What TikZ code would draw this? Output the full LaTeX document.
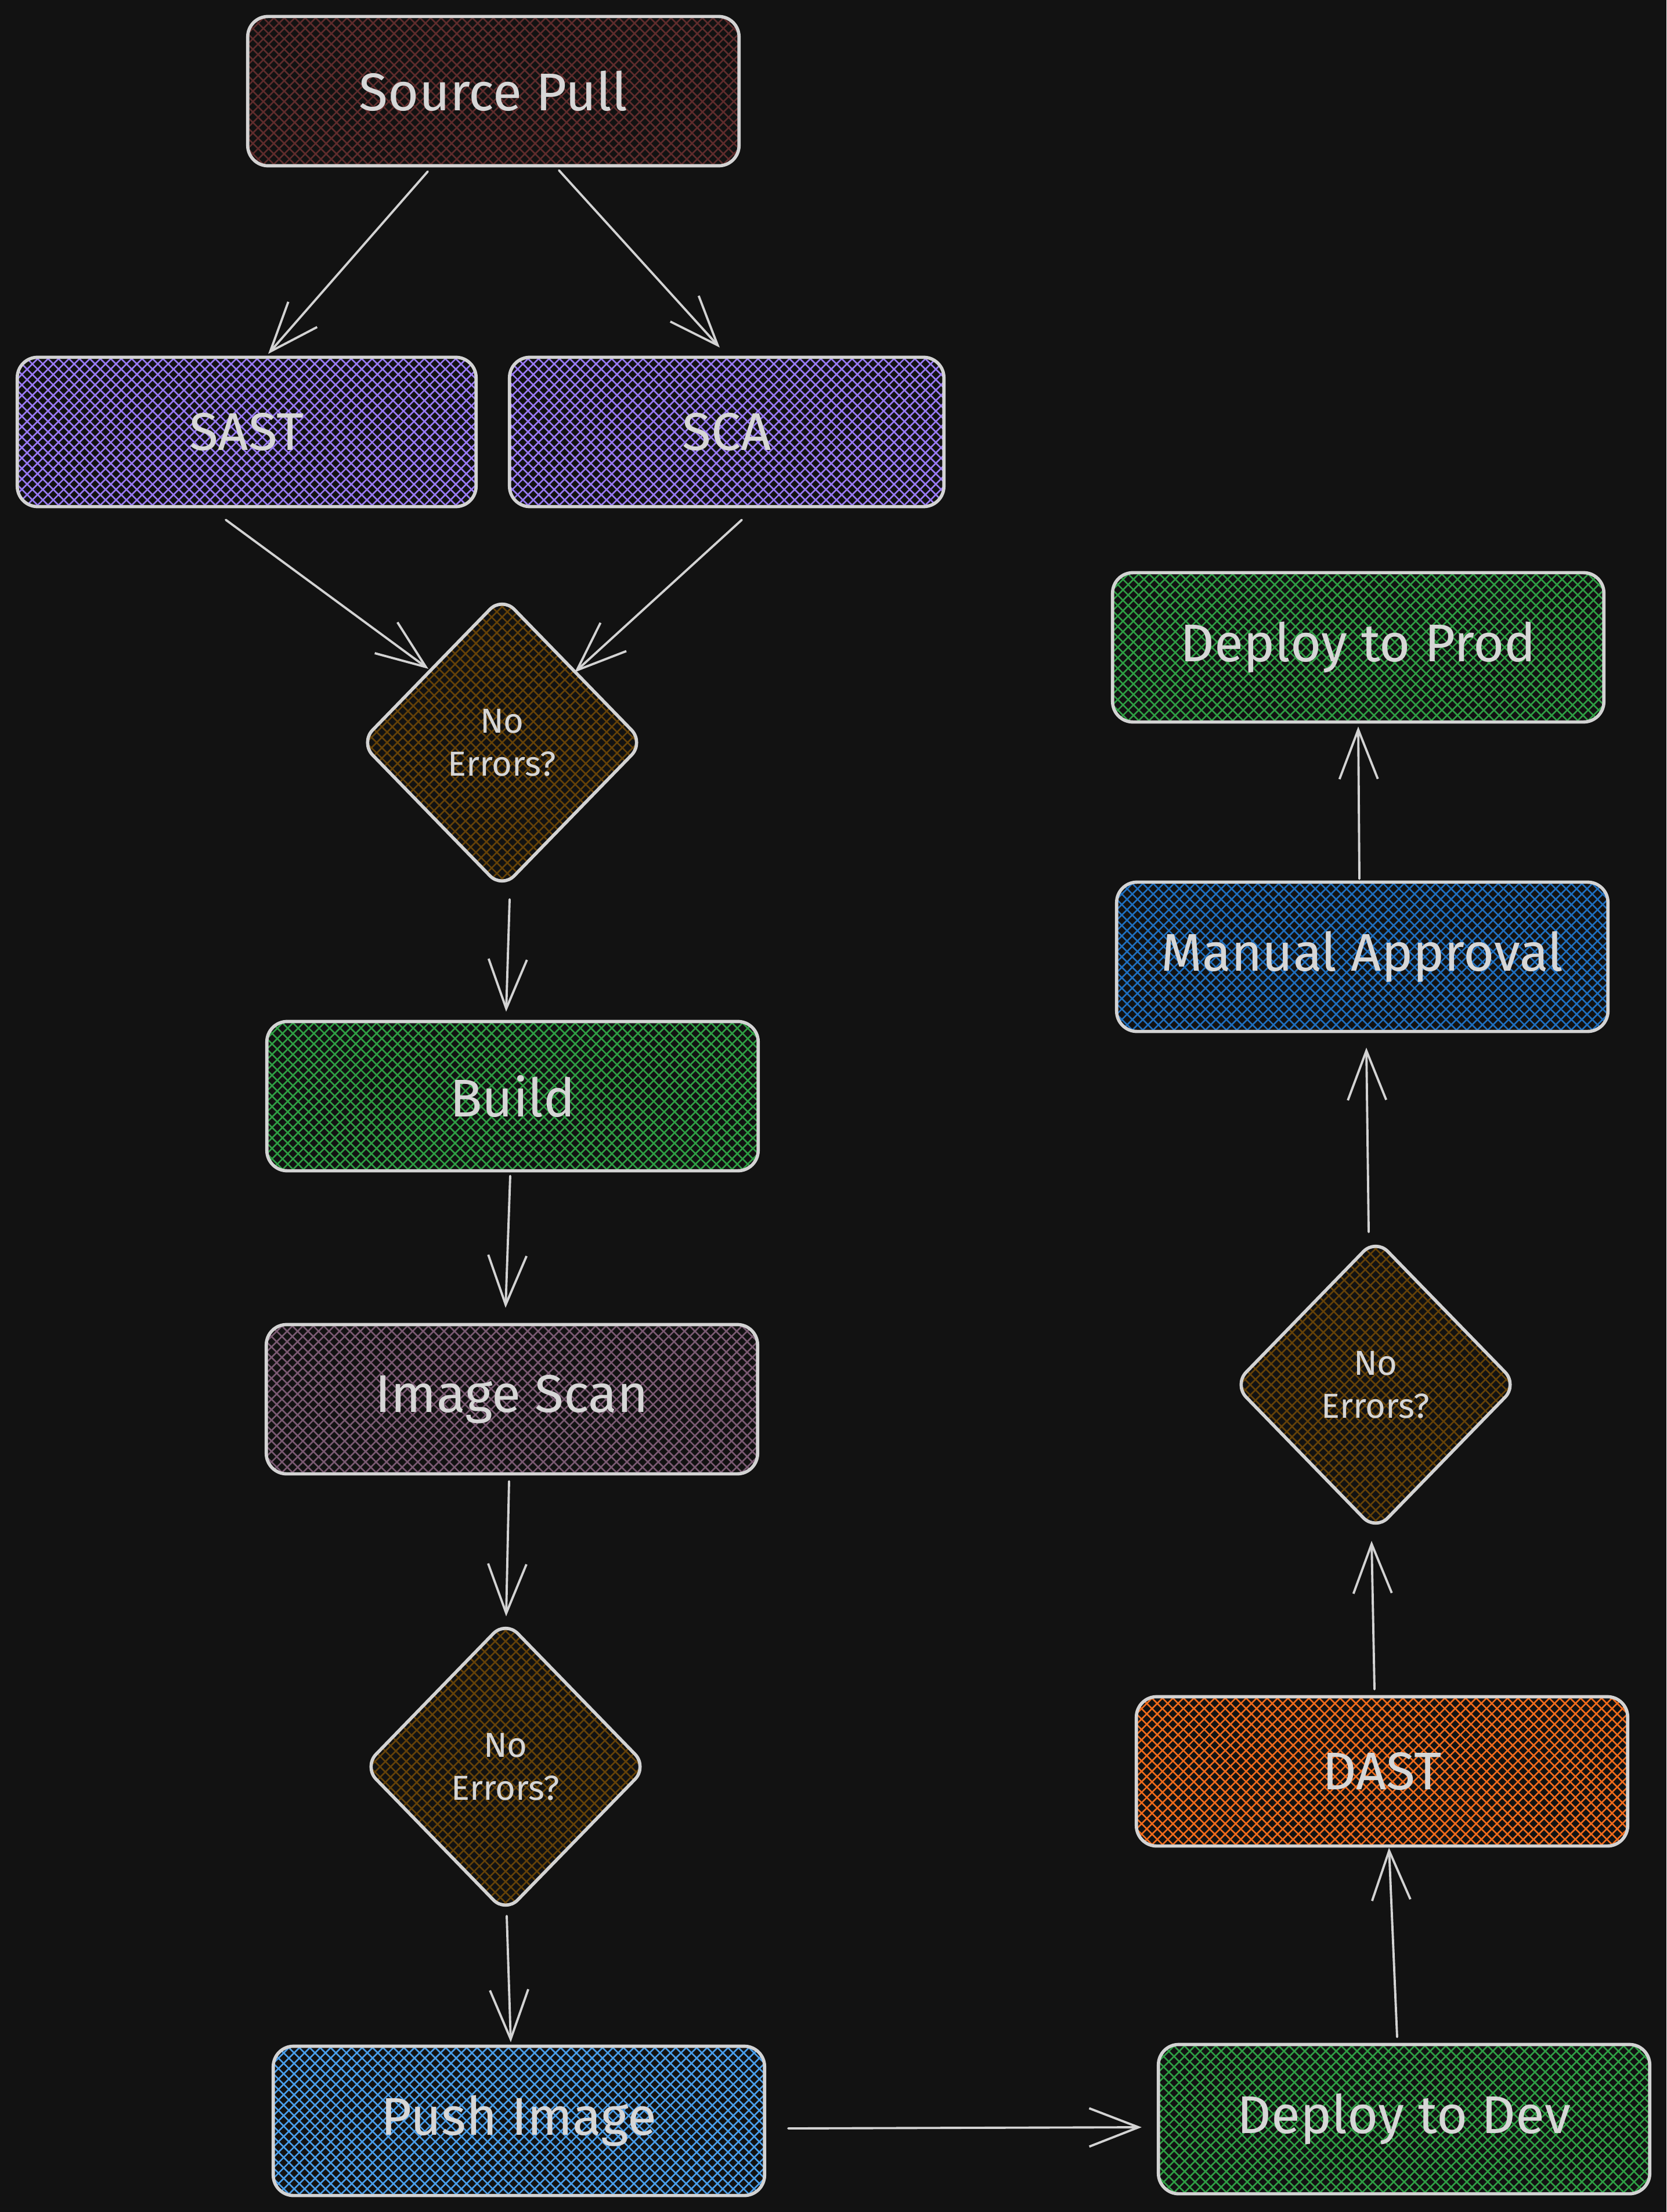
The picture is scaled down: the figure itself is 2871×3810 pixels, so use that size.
\documentclass[tikz,border=0pt]{standalone}
\usepackage{fontspec}
\setmainfont{Fira Sans}
\usetikzlibrary{shapes.geometric,arrows.meta,calc}
\definecolor{bgc}{HTML}{121212}
\definecolor{strokec}{HTML}{D3D3D3}
\definecolor{txtc}{HTML}{D6D6D6}
\definecolor{srcc}{HTML}{5E2C2C}
\definecolor{sastc}{HTML}{9A7BF6}
\definecolor{decc}{HTML}{654208}
\definecolor{greenc}{HTML}{2F9E44}
\definecolor{isc}{HTML}{7A5A72}
\definecolor{pushc}{HTML}{4A9EEA}
\definecolor{manc}{HTML}{1F6FBF}
\definecolor{dastc}{HTML}{F06B1C}
\newcommand{\boxfont}{\fontsize{26}{31}\selectfont}
\newcommand{\diafont}{\fontsize{17}{21}\selectfont}
\begin{document}
\begin{tikzpicture}[x=0.01cm,y=-0.01cm,
  hatchfill/.style={path picture={
    \foreach \k in {-34,...,34}{
      \draw[draw=#1, line width=0.75pt]
        ([xshift=\k*0.18cm]path picture bounding box.center)
        +(-3.2cm,-3.2cm) -- +(3.2cm,3.2cm)
        +(-3.2cm,3.2cm) -- +(3.2cm,-3.2cm);
    }}},
  box/.style={draw=strokec, line width=1.6pt, rounded corners=0.35cm,
    minimum width=8.46cm, minimum height=2.57cm, inner sep=0pt,
    text=txtc, font=\boxfont, hatchfill=#1},
  dia/.style={shape=diamond, draw=strokec, line width=1.6pt, rounded corners=0.3cm,
    minimum width=4.9cm, minimum height=5.04cm, inner sep=0pt,
    text=txtc, font=\diafont, align=center, hatchfill=#1},
  conn/.style={draw=strokec, line width=1.1pt, line cap=round,
    -{Straight Barb[length=0.85cm, width=0.66cm]}}
]
\useasboundingbox (0,0) rectangle (2871,3810);
\fill[bgc] (0,0) rectangle (2871,3810);

% left column
\node[box=srcc] (sp) at (850,157) {Source Pull};
\node[box=sastc, minimum width=7.9cm] (sast) at (425,744) {SAST};
\node[box=sastc, minimum width=7.48cm] (sca) at (1252,744) {SCA};
\node[dia=decc] (d1) at (865,1279) {No\\Errors?};
\node[box=greenc] (build) at (883,1888) {Build};
\node[box=isc] (is) at (882,2410) {Image Scan};
\node[dia=decc] (d2) at (871,3043) {No\\Errors?};
\node[box=pushc] (push) at (894,3653) {Push Image};

% right column
\node[box=greenc] (dev) at (2419,3650) {Deploy to Dev};
\node[box=dastc] (dast) at (2381,3051) {DAST};
\node[dia=decc] (d3) at (2370,2385) {No\\Errors?};
\node[box=manc] (man) at (2347,1648) {Manual Approval};
\node[box=greenc] (prod) at (2340,1115) {Deploy to Prod};

% connectors
\draw[conn] ($(sp.south)+(-113,7)$) -- ($(sast.north)+(37,-3)$);
\draw[conn] ($(sp.south)+(113,5)$) -- ($(sca.north)+(-12,-14)$);
\draw[conn] ($(sast.south)+(-36,20)$) -- ($(d1.center)+(-127,-127)$);
\draw[conn] ($(sca.south)+(26,20)$) -- ($(d1.center)+(125,-121)$);
\draw[conn] ($(d1.south)+(13,15)$) -- ($(build.north)+(-11,-14)$);
\draw[conn] ($(build.south)+(-4,6)$) -- ($(is.north)+(-11,-26)$);
\draw[conn] ($(is.south)+(-5,10)$) -- ($(d2.north)+(1,-4)$);
\draw[conn] ($(d2.south)+(2,2)$) -- ($(push.north)+(-14,-4)$);
\draw[conn] ($(push.east)+(38,13)$) -- ($(dev.west)+(-26,14)$);
\draw[conn] ($(dev.north)+(-12,-10)$) -- ($(dast.south)+(12,0)$);
\draw[conn] ($(dast.north)+(-13,-10)$) -- ($(d3.south)+(-7,14)$);
\draw[conn] ($(d3.north)+(-12,-8)$) -- ($(man.south)+(7,25)$);
\draw[conn] ($(man.north)+(-5,-3)$) -- ($(prod.south)+(0,5)$);
\end{tikzpicture}
\end{document}
